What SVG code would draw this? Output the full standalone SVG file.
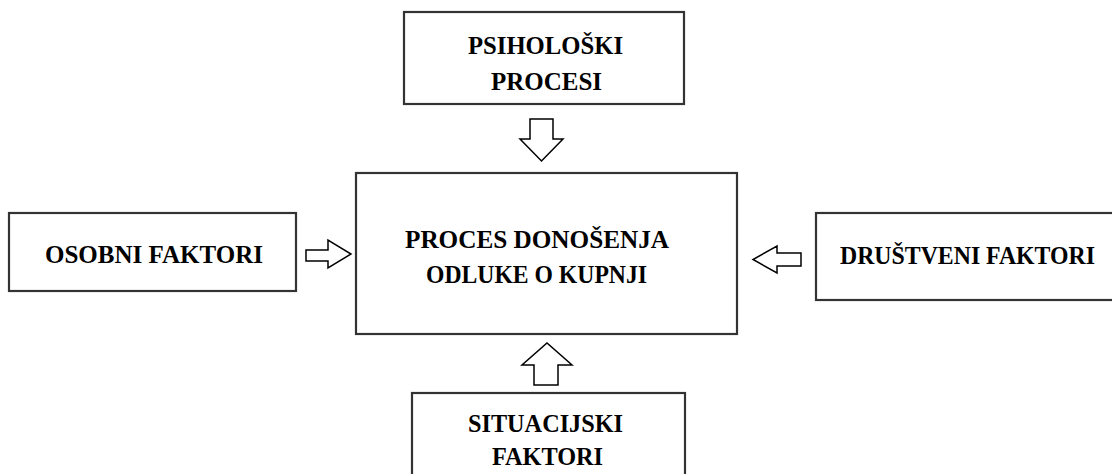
<svg xmlns="http://www.w3.org/2000/svg" width="1112" height="474" viewBox="0 0 1112 474">
<style>
.box{fill:#fff;stroke:#333;stroke-width:2.2}
.arr{fill:#fff;stroke:#000;stroke-width:1.5;stroke-linejoin:miter}
</style>
<rect width="1112" height="474" fill="#fff"/>
<g id="connectors">
<polygon class="arr" points="530,119 553,119 553,139 563,139 541.5,161 520,139 530,139"/>
<polygon class="arr" points="534,385 558,385 558,365 572,365 547,343 522,365 534,365"/>
<polygon class="arr" points="306,250 328,250 328,240 351,254 328,268 328,261 306,261"/>
<polygon class="arr" points="801,253 777,253 777,246 753,259.5 777,273 777,266 801,266"/>
</g>
<g font-family="Liberation Serif, Times New Roman, DejaVu Serif, serif" font-weight="bold" font-size="26" fill="#000">
<g id="psiholoski">
<rect class="box" x="404" y="12" width="280" height="92"/>
<text x="468" y="54" textLength="155" lengthAdjust="spacingAndGlyphs">PSIHOLOŠKI</text>
<text x="491" y="90" textLength="111" lengthAdjust="spacingAndGlyphs">PROCESI</text>
</g>
<g id="proces">
<rect class="box" x="356" y="173" width="381" height="161"/>
<text x="405" y="248" textLength="264" lengthAdjust="spacingAndGlyphs">PROCES DONOŠENJA</text>
<text x="426" y="283" textLength="221" lengthAdjust="spacingAndGlyphs">ODLUKE O KUPNJI</text>
</g>
<g id="osobni">
<rect class="box" x="9" y="213" width="287" height="78"/>
<text x="45" y="263" textLength="218" lengthAdjust="spacingAndGlyphs">OSOBNI FAKTORI</text>
</g>
<g id="drustveni">
<rect class="box" x="816" y="213" width="300" height="87"/>
<text x="840" y="264" textLength="255" lengthAdjust="spacingAndGlyphs">DRUŠTVENI FAKTORI</text>
</g>
<g id="situacijski">
<rect class="box" x="412" y="393" width="273" height="90"/>
<text x="468" y="432" textLength="155" lengthAdjust="spacingAndGlyphs">SITUACIJSKI</text>
<text x="492" y="465" textLength="111" lengthAdjust="spacingAndGlyphs">FAKTORI</text>
</g>
</g>
</svg>
